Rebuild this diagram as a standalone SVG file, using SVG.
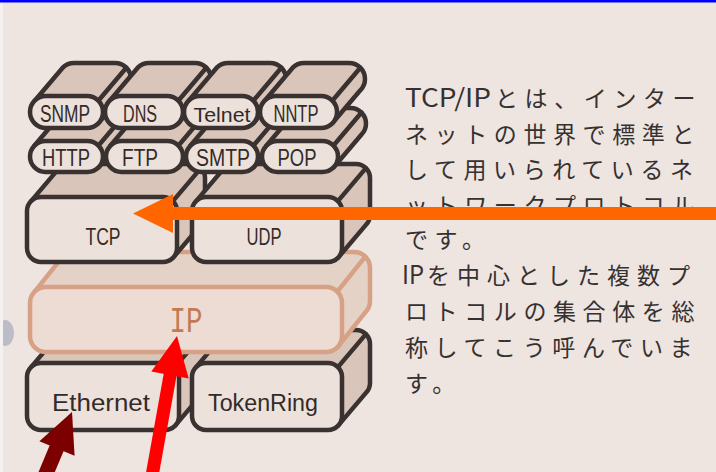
<svg xmlns="http://www.w3.org/2000/svg" width="716" height="472" viewBox="0 0 716 472">
<style>
.edge{fill:#d9c5b9;stroke:#3a3230;stroke-width:4.5;stroke-linejoin:round}
.face{fill:#ece1db;stroke:#3a3230;stroke-width:4.5}
.crease{fill:none;stroke:#3a3230;stroke-width:4.5;stroke-linecap:round}
.ip .edge{fill:#e5d2c7;stroke:#d6a185}
.ip .face{fill:#ecdcd4;stroke:#d6a185}
.ip .crease{stroke:#d6a185}
.lbl{font-family:"Liberation Sans","DejaVu Sans",sans-serif;fill:#332b29;text-anchor:middle}
.jp{font-family:"Noto Sans CJK JP","Noto Sans CJK SC",sans-serif;font-size:23px;fill:#363131;letter-spacing:6.6px}
.lat{font-size:25px;letter-spacing:0}
</style>
<rect x="0" y="0" width="716" height="472" fill="#eee4e0"/>
<ellipse cx="5" cy="333" rx="9" ry="13" fill="#bcbcc8"/>
<rect x="0" y="0" width="3" height="472" fill="#f5f1f0"/>
<rect x="0" y="0" width="716" height="2.5" fill="#0000ff"/>

<g id="node-ethernet">
<path class="edge" d="M31.1 367.1 L59.1 334.1 A14 14 0 0 1 69 330 H193 A14 14 0 0 1 207 344 V383 A14 14 0 0 1 202.9 392.9 L174.9 425.9 Z"/>
<path class="crease" d="M174.9 367.1 L202.9 334.1"/>
<rect class="face" x="27" y="363" width="152" height="67" rx="14"/>
<text class="lbl" x="101" y="411" font-size="23" textLength="98" lengthAdjust="spacingAndGlyphs">Ethernet</text>
</g>
<g id="node-tokenring">
<path class="edge" d="M196.1 367.1 L224.1 334.1 A14 14 0 0 1 234 330 H356 A14 14 0 0 1 370 344 V383 A14 14 0 0 1 365.9 392.9 L337.9 425.9 Z"/>
<path class="crease" d="M337.9 367.1 L365.9 334.1"/>
<rect class="face" x="192" y="363" width="150" height="67" rx="14"/>
<text class="lbl" x="263" y="411" font-size="23" textLength="110" lengthAdjust="spacingAndGlyphs">TokenRing</text>
</g>
<g id="node-ip" class="ip">
<path class="edge" d="M34.7 291.7 L62.7 256.7 A16 16 0 0 1 74 252 H354 A16 16 0 0 1 370 268 V301 A16 16 0 0 1 365.3 312.3 L337.3 347.3 Z"/>
<path class="crease" d="M337.3 291.7 L365.3 256.7"/>
<rect class="face" x="30" y="287" width="312" height="65" rx="16"/>
<text x="186" y="332" font-family="Liberation Mono, DejaVu Sans Mono, monospace" font-size="36" fill="#c27a56" text-anchor="middle" textLength="33" lengthAdjust="spacingAndGlyphs">IP</text>
</g>
<g id="node-tcp">
<path class="edge" d="M31.1 201.1 L59.1 168.1 A14 14 0 0 1 69 164 H191 A14 14 0 0 1 205 178 V215 A14 14 0 0 1 200.9 224.9 L172.9 257.9 Z"/>
<path class="crease" d="M172.9 201.1 L200.9 168.1"/>
<rect class="face" x="27" y="197" width="150" height="65" rx="14"/>
<text class="lbl" x="103" y="245" font-size="24" textLength="35" lengthAdjust="spacingAndGlyphs">TCP</text>
</g>
<g id="node-udp">
<path class="edge" d="M196.1 201.1 L224.1 168.1 A14 14 0 0 1 234 164 H356 A14 14 0 0 1 370 178 V215 A14 14 0 0 1 365.9 224.9 L337.9 257.9 Z"/>
<path class="crease" d="M337.9 201.1 L365.9 168.1"/>
<rect class="face" x="192" y="197" width="150" height="65" rx="14"/>
<text class="lbl" x="264" y="245" font-size="24" textLength="35" lengthAdjust="spacingAndGlyphs">UDP</text>
</g>

<g id="node-http">
<path class="edge" d="M34.5 145.5 L62.5 112.5 A15.5 15.5 0 0 1 73.5 108 H115.5 A15.5 15.5 0 0 1 131 123.5 A15.5 15.5 0 0 1 126.5 134.5 L98.5 167.5 Z"/>
<path class="crease" d="M98.5 145.5 L126.5 112.5"/>
<rect class="face" x="30" y="141" width="73" height="31" rx="15.5"/>
<text class="lbl" x="66" y="166" font-size="24" textLength="48" lengthAdjust="spacingAndGlyphs">HTTP</text>
</g>
<g id="node-ftp">
<path class="edge" d="M110.5 145.5 L138.5 112.5 A15.5 15.5 0 0 1 149.5 108 H195.5 A15.5 15.5 0 0 1 211 123.5 A15.5 15.5 0 0 1 206.5 134.5 L178.5 167.5 Z"/>
<path class="crease" d="M178.5 145.5 L206.5 112.5"/>
<rect class="face" x="106" y="141" width="77" height="31" rx="15.5"/>
<text class="lbl" x="140" y="166" font-size="24" textLength="36" lengthAdjust="spacingAndGlyphs">FTP</text>
</g>
<g id="node-smtp">
<path class="edge" d="M190.5 145.5 L218.5 112.5 A15.5 15.5 0 0 1 229.5 108 H270.5 A15.5 15.5 0 0 1 286 123.5 A15.5 15.5 0 0 1 281.5 134.5 L253.5 167.5 Z"/>
<path class="crease" d="M253.5 145.5 L281.5 112.5"/>
<rect class="face" x="186" y="141" width="72" height="31" rx="15.5"/>
<text class="lbl" x="223" y="166" font-size="24" textLength="54" lengthAdjust="spacingAndGlyphs">SMTP</text>
</g>
<g id="node-pop">
<path class="edge" d="M266.5 145.5 L294.5 112.5 A15.5 15.5 0 0 1 305.5 108 H350.5 A15.5 15.5 0 0 1 366 123.5 A15.5 15.5 0 0 1 361.5 134.5 L333.5 167.5 Z"/>
<path class="crease" d="M333.5 145.5 L361.5 112.5"/>
<rect class="face" x="262" y="141" width="76" height="31" rx="15.5"/>
<text class="lbl" x="297" y="166" font-size="24" textLength="39" lengthAdjust="spacingAndGlyphs">POP</text>
</g>

<g id="node-snmp">
<path class="edge" d="M34.7 100.7 L62.7 67.7 A16 16 0 0 1 74 63 H115 A16 16 0 0 1 131 79 A16 16 0 0 1 126.3 90.3 L98.3 123.3 Z"/>
<path class="crease" d="M98.3 100.7 L126.3 67.7"/>
<rect class="face" x="30" y="96" width="73" height="32" rx="16"/>
<text class="lbl" x="65" y="122" font-size="24" textLength="50" lengthAdjust="spacingAndGlyphs">SNMP</text>
</g>
<g id="node-dns">
<path class="edge" d="M109.7 100.7 L137.7 67.7 A16 16 0 0 1 149 63 H195 A16 16 0 0 1 211 79 A16 16 0 0 1 206.3 90.3 L178.3 123.3 Z"/>
<path class="crease" d="M178.3 100.7 L206.3 67.7"/>
<rect class="face" x="105" y="96" width="78" height="32" rx="16"/>
<text class="lbl" x="140" y="122" font-size="24" textLength="34" lengthAdjust="spacingAndGlyphs">DNS</text>
</g>
<g id="node-telnet">
<path class="edge" d="M188.7 100.7 L216.7 67.7 A16 16 0 0 1 228 63 H270 A16 16 0 0 1 286 79 A16 16 0 0 1 281.3 90.3 L253.3 123.3 Z"/>
<path class="crease" d="M253.3 100.7 L281.3 67.7"/>
<rect class="face" x="184" y="96" width="74" height="32" rx="16"/>
<text class="lbl" x="222" y="122" font-size="20" textLength="57" lengthAdjust="spacingAndGlyphs">Telnet</text>
</g>
<g id="node-nntp">
<path class="edge" d="M264.7 100.7 L292.7 67.7 A16 16 0 0 1 304 63 H349 A16 16 0 0 1 365 79 A16 16 0 0 1 360.3 90.3 L332.3 123.3 Z"/>
<path class="crease" d="M332.3 100.7 L360.3 67.7"/>
<rect class="face" x="260" y="96" width="77" height="32" rx="16"/>
<text class="lbl" x="296" y="122" font-size="24" textLength="45" lengthAdjust="spacingAndGlyphs">NNTP</text>
</g>

<g id="description">
<text class="jp" y="107"><tspan class="lat" x="405" textLength="86" lengthAdjust="spacingAndGlyphs">TCP/IP</tspan><tspan x="495">とは、インター</tspan></text>
<text class="jp" x="405" y="143">ネットの世界で標準と</text>
<text class="jp" x="405" y="178">して用いられているネ</text>
<text class="jp" x="405" y="214">ットワークプロトコル</text>
<text class="jp" x="405" y="248">です。</text>
<text class="jp" y="284"><tspan class="lat" x="402" textLength="22" lengthAdjust="spacingAndGlyphs">IP</tspan><tspan x="427" style="letter-spacing:7px">を中心とした複数プ</tspan></text>
<text class="jp" x="405" y="320">ロトコルの集合体を総</text>
<text class="jp" x="405" y="356">称してこう呼んでいま</text>
<text class="jp" x="405" y="392">す。</text>
</g>

<g id="connectors">
<line x1="720" y1="213.5" x2="168" y2="213.5" stroke="#ff6600" stroke-width="13"/>
<polygon points="133,213.5 173,194 173,233" fill="#ff6600"/>
<line x1="152" y1="476" x2="171" y2="370" stroke="#ff0000" stroke-width="13"/>
<polygon points="177,336 151.3,371.6 188.7,378.4" fill="#ff0000"/>
<line x1="45" y1="476" x2="58" y2="445" stroke="#7d0000" stroke-width="15"/>
<polygon points="72,412 39.4,441.3 74.6,455.7" fill="#7d0000"/>
</g>
</svg>
